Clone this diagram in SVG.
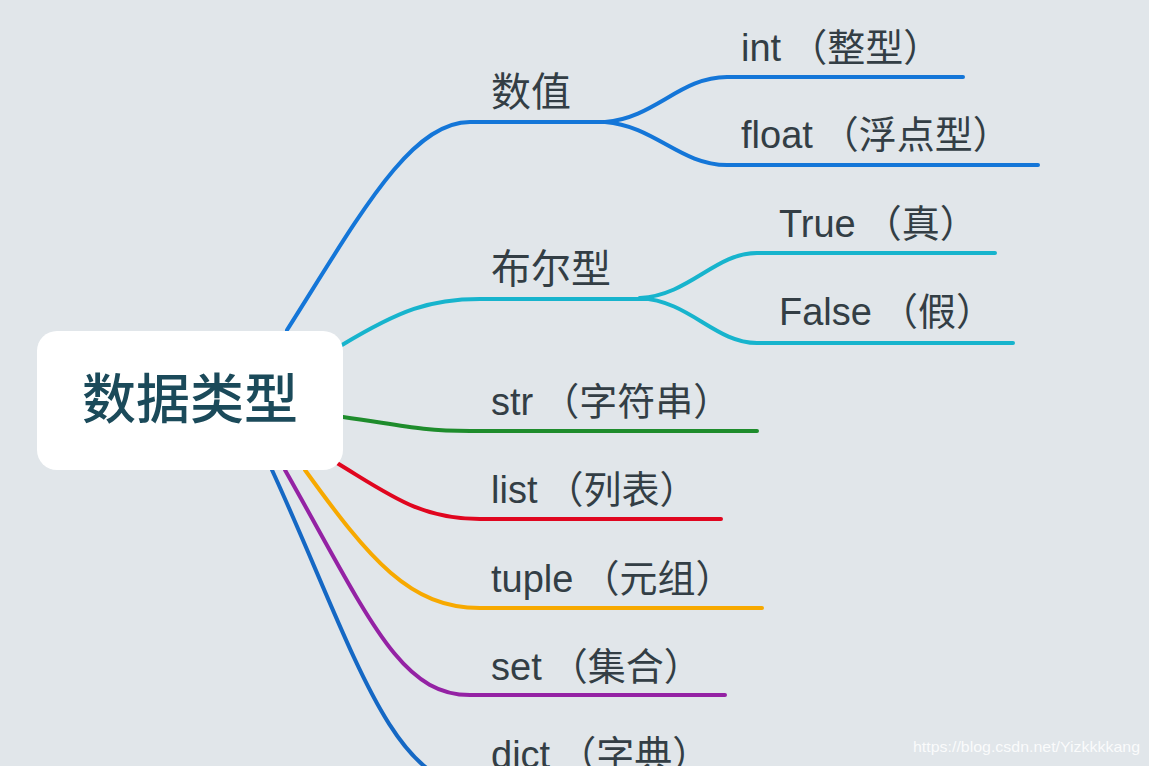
<svg xmlns="http://www.w3.org/2000/svg" width="1149" height="766" viewBox="0 0 1149 766">
<style>
.bg{fill:#e1e6ea}
.ln{fill:none;stroke-width:4;stroke-linecap:round;stroke-linejoin:round}
.t{font-family:"Liberation Sans","Noto Sans CJK SC",sans-serif;fill:#333e45}
.l1{font-size:40px}
.l2{font-size:38px}
.root{font-family:"Noto Sans CJK SC","Liberation Sans",sans-serif;font-size:54px;font-weight:500;fill:#1b4a5a}
.wm{font-family:"Liberation Sans",sans-serif;font-size:15px;fill:#ffffff;fill-opacity:0.85}
</style>
<rect class="bg" x="0" y="0" width="1149" height="766"/>
<g id="connectors">
  <path class="ln" stroke="#1476d8" d="M287,330 C360,215 410,122 470,122 L610,122"/>
  <path class="ln" stroke="#1476d8" d="M605,122 C655,118 680,77 727,77 L963,77"/>
  <path class="ln" stroke="#1476d8" d="M605,122 C655,126 680,165 727,165 L1038,165"/>
  <path class="ln" stroke="#17b4cd" d="M342,345 C400,310 430,299 480,299 L647,299"/>
  <path class="ln" stroke="#17b4cd" d="M640,298 C690,295 715,253 757,253 L995,253"/>
  <path class="ln" stroke="#17b4cd" d="M640,298 C690,301 715,343 757,343 L1013,343"/>
  <path class="ln" stroke="#1e8c2c" d="M343,417 C400,425 420,431 470,431 L757,431"/>
  <path class="ln" stroke="#e0061f" d="M337,463 C390,495 420,519 480,519 L721,519"/>
  <path class="ln" stroke="#f7a900" d="M305,470 C370,560 410,608 480,608 L762,608"/>
  <path class="ln" stroke="#9422a4" d="M285,470 C370,620 400,695 470,695 L725,695"/>
  <path class="ln" stroke="#1568c4" d="M272,470 C350,640 390,784 470,784 L740,784"/>
</g>
<g id="root">
  <rect x="37" y="331" width="306" height="139" rx="20" fill="#ffffff"/>
  <text class="root" x="190" y="419" text-anchor="middle">数据类型</text>
</g>
<g id="n-shuzhi"><text class="t l1" x="491" y="106">数值</text></g>
<g id="n-int"><text class="t l2" x="741" y="61">int<tspan dx="8">（整型）</tspan></text></g>
<g id="n-float"><text class="t l2" x="741" y="148">float<tspan dx="8">（浮点型）</tspan></text></g>
<g id="n-bool"><text class="t l1" x="491" y="283">布尔型</text></g>
<g id="n-true"><text class="t l2" x="779" y="237">True<tspan dx="8">（真）</tspan></text></g>
<g id="n-false"><text class="t l2" x="779" y="325">False<tspan dx="8">（假）</tspan></text></g>
<g id="n-str"><text class="t l2" x="491" y="415">str<tspan dx="8">（字符串）</tspan></text></g>
<g id="n-list"><text class="t l2" x="491" y="503">list<tspan dx="8">（列表）</tspan></text></g>
<g id="n-tuple"><text class="t l2" x="491" y="592">tuple<tspan dx="8">（元组）</tspan></text></g>
<g id="n-set"><text class="t l2" x="491" y="680">set<tspan dx="8">（集合）</tspan></text></g>
<g id="n-dict"><text class="t l2" x="491" y="768">dict<tspan dx="8">（字典）</tspan></text></g>
<text class="wm" x="913" y="752" textLength="227" lengthAdjust="spacingAndGlyphs">https://blog.csdn.net/Yizkkkkang</text>
</svg>
